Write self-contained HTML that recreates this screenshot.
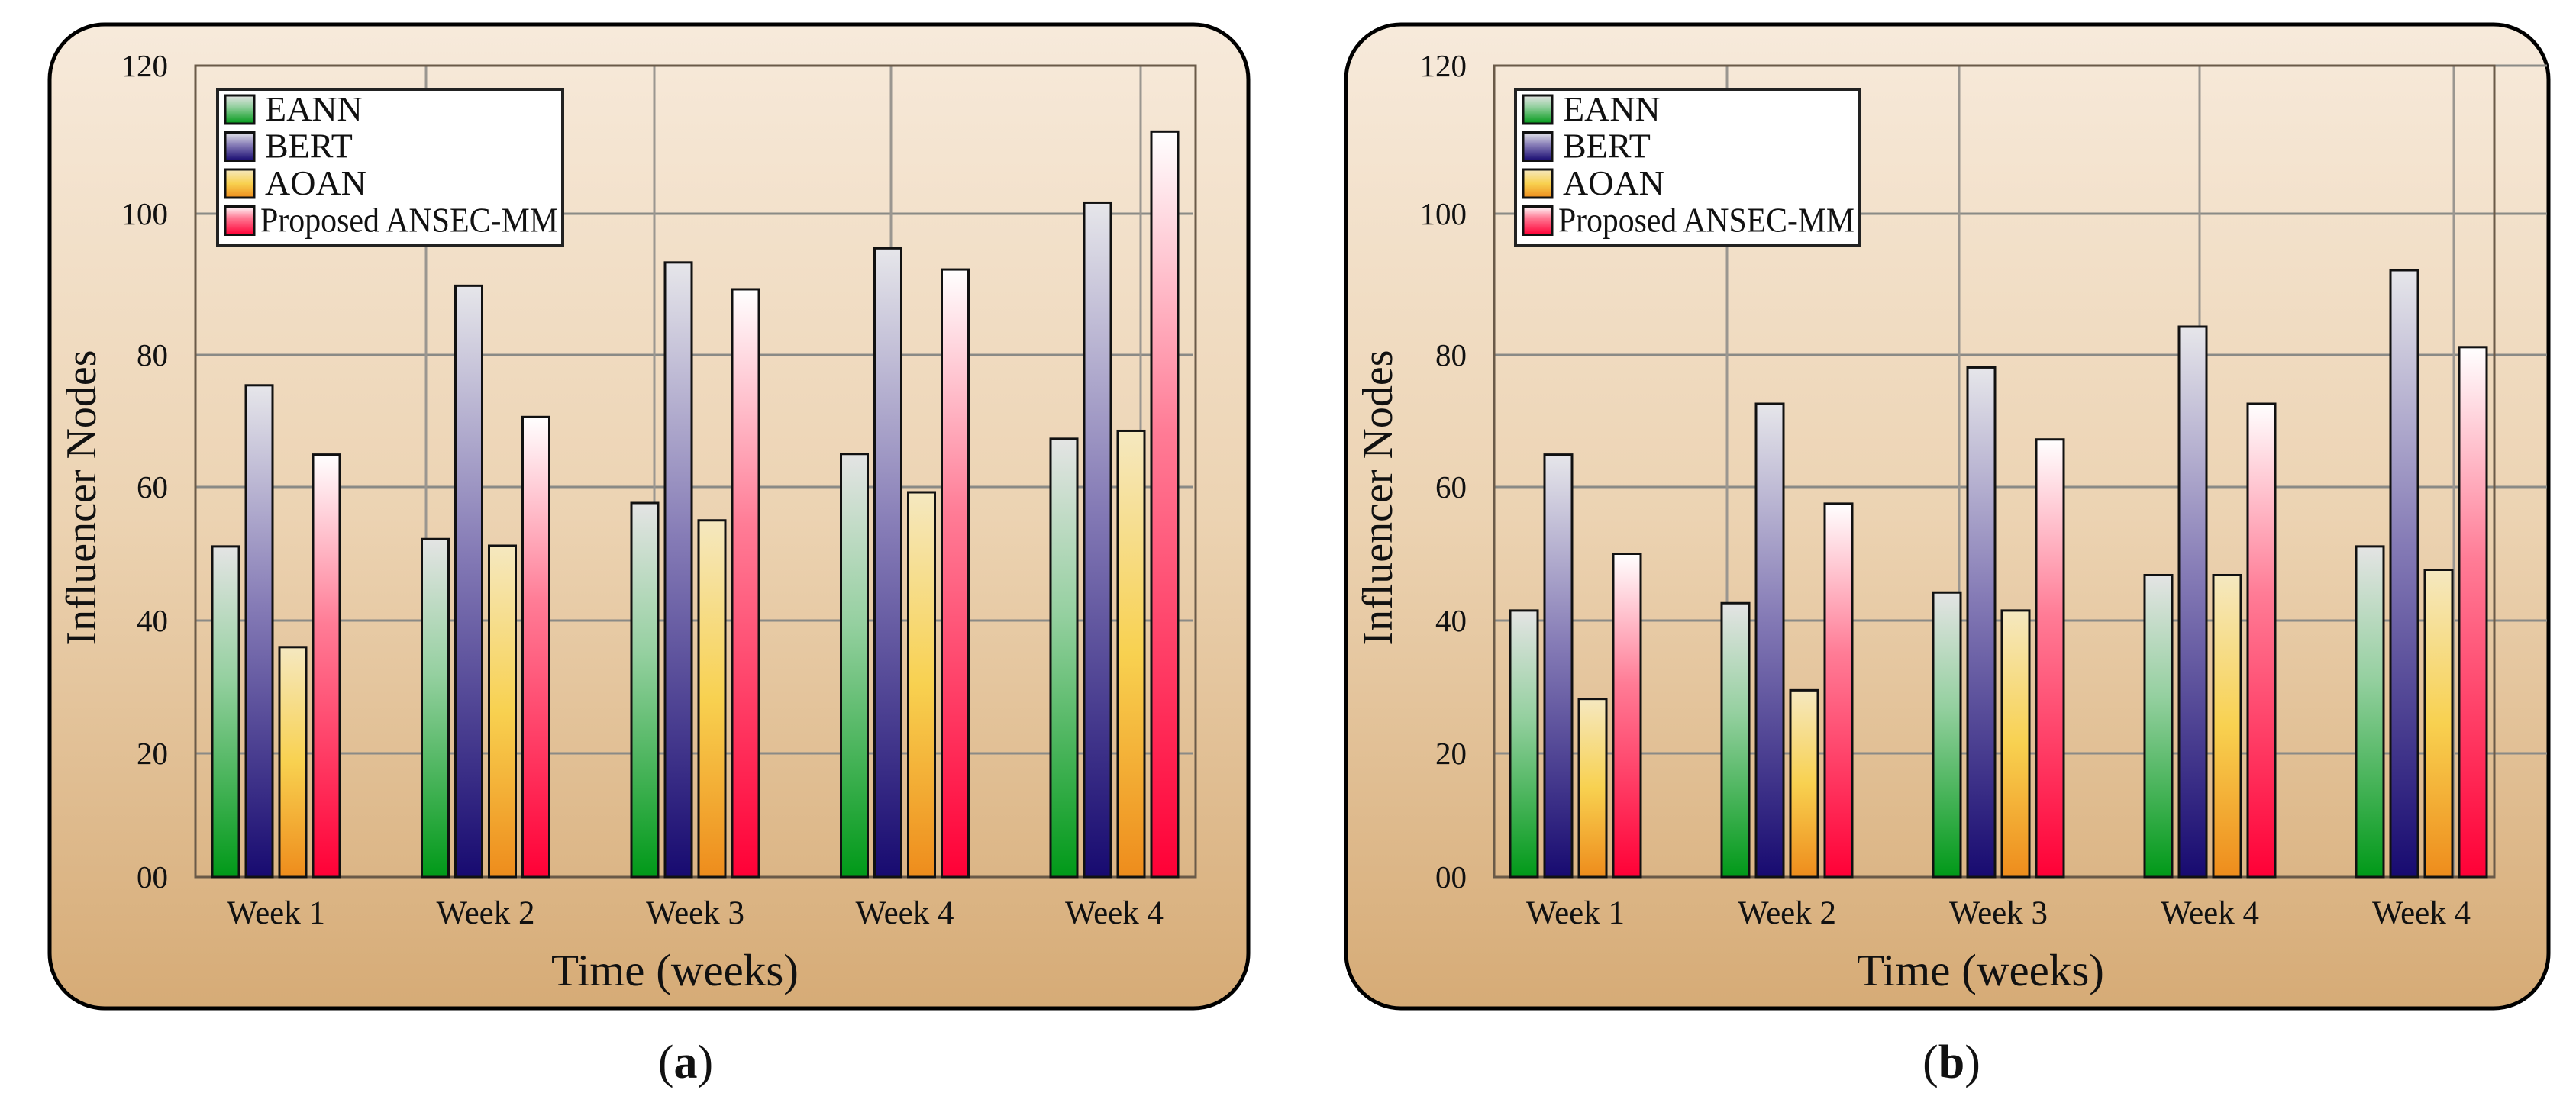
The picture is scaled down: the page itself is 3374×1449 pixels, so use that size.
<!DOCTYPE html>
<html><head><meta charset="utf-8"><style>
html,body{margin:0;padding:0;background:#fff;}
svg{display:block;}
text{font-family:"Liberation Serif",serif;fill:#111;}
</style></head><body>
<svg id="chart" width="3374" height="1449" viewBox="0 0 3374 1449" xmlns="http://www.w3.org/2000/svg">
<defs>
<linearGradient id="bg" x1="0" y1="0" x2="0" y2="1"><stop offset="0" stop-color="#f7eadb"/><stop offset="0.5" stop-color="#ecd3b2"/><stop offset="1" stop-color="#d6ab76"/></linearGradient>
<linearGradient id="g0" x1="0" y1="0" x2="0" y2="1"><stop offset="0" stop-color="#e4e4e4"/><stop offset="0.4" stop-color="#95d0a0"/><stop offset="1" stop-color="#009918"/></linearGradient>
<linearGradient id="g1" x1="0" y1="0" x2="0" y2="1"><stop offset="0" stop-color="#e6e6ea"/><stop offset="0.45" stop-color="#857bb6"/><stop offset="1" stop-color="#170a70"/></linearGradient>
<linearGradient id="g2" x1="0" y1="0" x2="0" y2="1"><stop offset="0" stop-color="#f5e8c0"/><stop offset="0.5" stop-color="#f8d150"/><stop offset="1" stop-color="#ee8c1c"/></linearGradient>
<linearGradient id="g3" x1="0" y1="0" x2="0" y2="1"><stop offset="0" stop-color="#ffffff"/><stop offset="0.4" stop-color="#ff7c96"/><stop offset="1" stop-color="#ff0036"/></linearGradient>
</defs>
</svg>
<script>
const categories = ["Week 1","Week 2","Week 3","Week 4","Week 4"];
const seriesNames = ["EANN","BERT","AOAN","Proposed ANSEC-MM"];
const yTicks = [0,20,40,60,80,100,120];
const yTickLabels = ["00","20","40","60","80","100","120"];
const aEANN = [51.1,52.2,57.6,65.0,67.3];
const aBERT = [75.4,89.8,93.1,95.1,101.5];
const aAOAN = [36.0,51.2,55.0,59.2,68.5];
const aANSEC = [64.9,70.6,89.3,92.1,111.1];
const bEANN = [41.5,42.6,44.2,46.8,51.1];
const bBERT = [64.9,72.6,78.1,84.0,92.0];
const bAOAN = [28.2,29.5,41.5,46.8,47.6];
const bANSEC = [50.0,57.5,67.2,72.6,81.1];

const NS = "http://www.w3.org/2000/svg";
const svg = document.getElementById('chart');
function mk(tag, attrs, parent){const e=document.createElementNS(NS,tag);for(const k in attrs)e.setAttribute(k,attrs[k]);(parent||svg).appendChild(e);return e;}
const yRows = [1149,987,813,638,465,280,86];
function yScale(v){
  if(v<=0) return yRows[0];
  for(let i=1;i<yTicks.length;i++){ if(v<=yTicks[i]){const t=(v-yTicks[i-1])/(yTicks[i]-yTicks[i-1]);return yRows[i-1]+t*(yRows[i]-yRows[i-1]);} }
  const n=yTicks.length-1; return yRows[n]+(v-yTicks[n])*(yRows[n]-yRows[n-1])/(yTicks[n]-yTicks[n-1]);
}
function panel(cfg, series, tag){
  const g = mk('g',{});
  
  
  const bg = mk('rect',{x:cfg.bx,y:32,width:cfg.bw,height:1289,rx:72,ry:72,fill:'url(#bg)',stroke:'#000','stroke-width':5},g);
  
  
  for(let i=1;i<yTicks.length;i++){
    const y=yScale(yTicks[i]);
    const l=mk('line',{x1:cfg.px,x2:cfg.gx2,y1:y,y2:y,stroke:'#8a8a86','stroke-width':3},g);
    
    
  }
  cfg.vgrid.forEach(x=>{
    const l=mk('line',{x1:x,x2:x,y1:yScale(120),y2:yScale(0),stroke:'#9a9690','stroke-width':3},g);
    
    
  });
  const frame=mk('rect',{x:cfg.px,y:yScale(120),width:cfg.pw,height:yScale(0)-yScale(120),fill:'none',stroke:'#6a5a48','stroke-width':3},g);
  
  
  yTicks.forEach((v,i)=>{
    const t=mk('text',{x:cfg.px-36,y:yScale(v)+14,'text-anchor':'end','font-size':41},g);
    t.textContent=yTickLabels[i];
    
    
  });
  categories.forEach((c,ci)=>{
    const gx=cfg.g0+ci*cfg.gp;
    series.forEach((s,si)=>{
      const x=gx+si*cfg.bp; const y=yScale(s[ci]);
      const r=mk('rect',{x:x,y:y,width:cfg.bwid,height:yScale(0)-y,fill:'url(#g'+si+')',stroke:'#111','stroke-width':3},g);
      
      
    });
    const t=mk('text',{x:gx+(3*cfg.bp+cfg.bwid)/2,y:1210,'text-anchor':'middle','font-size':43},g);
    t.textContent=c;
    
    
  });
  const lg=mk('g',{},g);
  
  
  mk('rect',{x:cfg.lx,y:117,width:cfg.lw,height:205,fill:'#fff',stroke:'#222','stroke-width':4},lg);
  seriesNames.forEach((n,i)=>{
    const sw=mk('rect',{x:cfg.lx+10,y:125+i*48.5,width:38,height:37,fill:'url(#g'+i+')',stroke:'#111','stroke-width':3},lg);
    
    
    const attrs={x:cfg.lx+(i==3?56:62),y:158+i*48.5,'font-size':46};
    if(i==3){attrs.textLength=cfg.lw-62;attrs.lengthAdjust='spacingAndGlyphs';}
    const t=mk('text',attrs,lg);
    t.textContent=n;
    
    
  });
  const yt=mk('text',{x:0,y:0,'text-anchor':'middle','font-size':56,transform:'translate('+(cfg.yx)+',652) rotate(-90)'},g);
  yt.textContent='Influencer Nodes';
  
  
  const xt=mk('text',{x:cfg.tx,y:1291,'text-anchor':'middle','font-size':59},g);
  xt.textContent='Time (weeks)';
  
  
  const cap=mk('text',{x:cfg.cx,y:1412,'text-anchor':'middle','font-size':62},g);
  cap.innerHTML='(<tspan font-weight="bold">'+tag+'</tspan>)';
  
  
}
panel({bx:65,bw:1570,px:256,pw:1310,gx2:1562,vgrid:[558,857,1167,1494],g0:278,gp:274.5,bp:44,bwid:35,lx:285,lw:452,yx:125,tx:884,cx:898},[aEANN,aBERT,aAOAN,aANSEC],'a');
panel({bx:1763,bw:1575,px:1957,pw:1310,gx2:3336,vgrid:[2262,2566,2881,3214],g0:1978,gp:277,bp:45,bwid:36,lx:1985,lw:450,yx:1823,tx:2594,cx:2556},[bEANN,bBERT,bAOAN,bANSEC],'b');
</script>
</body></html>
